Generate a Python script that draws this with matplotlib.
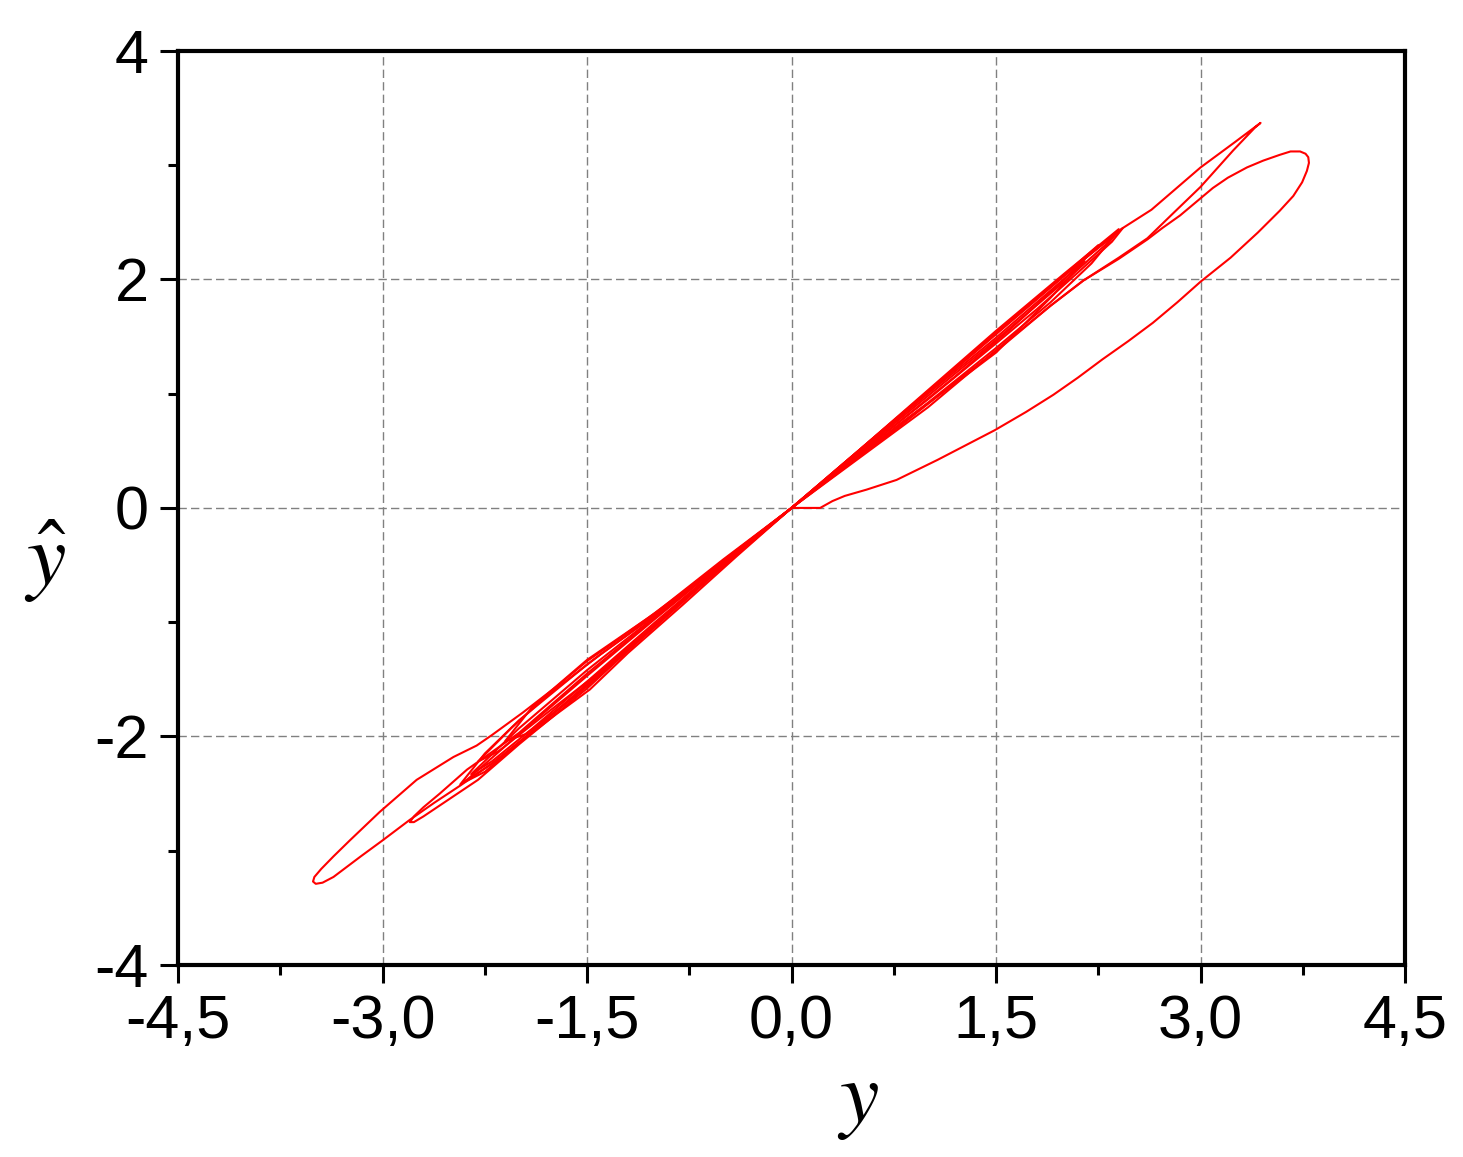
import numpy as np
import matplotlib.pyplot as plt

plt.rcParams["font.family"] = ["Liberation Sans", "DejaVu Sans"]
plt.rcParams["mathtext.fontset"] = "stix"

# ----------- Data: trajectory pieces (y, y_hat) -----------
# start transient: leaves the origin, big right loop, back into the upper bundle
start_x = [0.00, 0.21, 0.30, 0.39, 0.55, 0.77, 1.07, 1.28, 1.49, 1.72, 1.92, 2.10, 2.28, 2.47, 2.65,
           2.83, 3.00, 3.22, 3.42, 3.58, 3.68, 3.745, 3.78, 3.795, 3.79, 3.77, 3.73, 3.66, 3.58, 3.46,
           3.34, 3.20, 3.09, 2.97, 2.85, 2.72, 2.61, 2.40, 2.14, 1.90, 1.53, 1.20, 0.80, 0.40, 0.00]
start_y = [0.00, 0.00, 0.06, 0.105, 0.16, 0.245, 0.42, 0.55, 0.68, 0.84, 0.99, 1.14, 1.30, 1.46, 1.62,
           1.80, 1.98, 2.19, 2.41, 2.60, 2.73, 2.85, 2.95, 3.02, 3.07, 3.10, 3.12, 3.12, 3.09, 3.04,
           2.98, 2.89, 2.80, 2.68, 2.56, 2.45, 2.35, 2.18, 1.99, 1.77, 1.40, 1.10, 0.72, 0.36, 0.00]

# big left loop, tip near (-3.5, -3.3)
neg_outer_x = [0.00, -0.40, -0.80, -1.06, -1.19, -1.33, -1.50, -1.72, -1.97, -2.20, -2.31, -2.48, -2.75,
               -3.02, -3.24, -3.36, -3.45, -3.50, -3.51, -3.49, -3.44, -3.36, -3.16, -3.00, -2.80,
               -2.62, -2.43, -2.20, -1.97, -1.72, -1.48, -1.20, -0.80, -0.40, 0.00]
neg_outer_y = [0.00, -0.37, -0.74, -0.97, -1.08, -1.20, -1.34, -1.56, -1.79, -1.99, -2.08, -2.18, -2.38,
               -2.66, -2.91, -3.05, -3.16, -3.23, -3.27, -3.29, -3.28, -3.23, -3.05, -2.91, -2.73,
               -2.58, -2.43, -2.24, -2.03, -1.80, -1.59, -1.27, -0.85, -0.42, 0.00]

# small left loop, tip near (-2.8, -2.75)
neg_small_x = [0.00, -0.50, -1.00, -1.50, -2.00, -2.38, -2.58, -2.70, -2.77, -2.80, -2.77, -2.70, -2.55,
               -2.30, -2.00, -1.50, -1.00, -0.50, 0.00]
neg_small_y = [0.00, -0.47, -0.96, -1.45, -1.97, -2.29, -2.50, -2.62, -2.70, -2.75, -2.75, -2.70, -2.58,
               -2.38, -2.07, -1.58, -1.03, -0.50, 0.00]

# lens loops inside the lower bundle
neg_lens1_x = [0.00, -0.50, -1.00, -1.50, -2.00, -2.25, -2.43, -2.20, -1.97, -1.50, -1.00, -0.50, 0.00]
neg_lens1_y = [0.00, -0.46, -0.93, -1.37, -1.86, -2.15, -2.42, -2.24, -2.02, -1.56, -1.04, -0.51, 0.00]
neg_lens2_x = [0.00, -0.50, -1.00, -1.50, -2.00, -2.35, -2.20, -1.90, -1.50, -1.00, -0.50, 0.00]
neg_lens2_y = [0.00, -0.47, -0.95, -1.42, -1.93, -2.33, -2.22, -1.93, -1.52, -1.00, -0.49, 0.00]
neg_lens3_x = [0.00, -0.50, -1.00, -1.50, -1.90, -2.10, -1.95, -1.60, -1.20, -0.70, 0.00]
neg_lens3_y = [0.00, -0.45, -0.92, -1.33, -1.74, -2.04, -1.98, -1.66, -1.24, -0.71, 0.00]
neg_lens4_x = [0.00, -0.50, -1.00, -1.50, -2.00, -2.40, -2.25, -2.00, -1.50, -1.00, -0.50, 0.00]
neg_lens4_y = [0.00, -0.48, -0.97, -1.47, -1.98, -2.40, -2.31, -2.06, -1.54, -1.02, -0.50, 0.00]
neg_lens5_x = [0.00, -0.50, -1.00, -1.40, -1.80, -2.05, -2.30, -2.15, -1.80, -1.40, -1.00, -0.50, 0.00]
neg_lens5_y = [0.00, -0.46, -0.94, -1.28, -1.65, -1.92, -2.22, -2.13, -1.80, -1.43, -1.02, -0.50, 0.00]

# upper spike, tip near (3.44, 3.37)
pos_spike_x = [0.00, 0.50, 1.00, 1.50, 2.00, 2.43, 2.64, 3.00, 3.25, 3.44, 3.40, 3.24, 3.00, 2.80, 2.61,
               2.40, 2.14, 1.90, 1.50, 1.20, 1.00, 0.50, 0.00]
pos_spike_y = [0.00, 0.51, 1.02, 1.54, 2.04, 2.45, 2.61, 2.98, 3.20, 3.37, 3.33, 3.13, 2.81, 2.58, 2.36,
               2.19, 1.99, 1.77, 1.38, 1.08, 0.88, 0.44, 0.00]

# lens loops inside the upper bundle
pos_lens1_x = [0.00, 0.50, 1.00, 1.50, 2.00, 2.30, 2.43, 2.35, 2.10, 1.80, 1.50, 1.00, 0.50, 0.00]
pos_lens1_y = [0.00, 0.50, 1.01, 1.52, 2.03, 2.33, 2.45, 2.33, 2.06, 1.74, 1.44, 0.95, 0.48, 0.00]
pos_lens2_x = [0.00, 0.50, 1.00, 1.50, 2.00, 2.38, 2.20, 1.90, 1.50, 1.00, 0.50, 0.00]
pos_lens2_y = [0.00, 0.51, 1.02, 1.53, 2.04, 2.40, 2.14, 1.80, 1.40, 0.92, 0.46, 0.00]
pos_lens3_x = [0.00, 0.60, 1.20, 1.60, 2.00, 2.25, 2.00, 1.60, 1.20, 0.60, 0.00]
pos_lens3_y = [0.00, 0.61, 1.22, 1.63, 2.04, 2.30, 2.00, 1.56, 1.15, 0.57, 0.00]
pos_lens4_x = [0.00, 0.50, 1.00, 1.50, 2.00, 2.40, 2.30, 2.00, 1.50, 1.00, 0.50, 0.00]
pos_lens4_y = [0.00, 0.51, 1.03, 1.55, 2.05, 2.44, 2.30, 1.98, 1.47, 0.98, 0.49, 0.00]
pos_lens5_x = [0.00, 0.50, 1.00, 1.50, 1.80, 2.15, 1.90, 1.50, 1.20, 0.80, 0.00]
pos_lens5_y = [0.00, 0.50, 1.00, 1.49, 1.80, 2.16, 1.84, 1.36, 1.09, 0.74, 0.00]

segments = [
    (start_x, start_y),
    (neg_outer_x, neg_outer_y),
    (pos_spike_x, pos_spike_y),
    (neg_small_x, neg_small_y),
    (pos_lens1_x, pos_lens1_y),
    (neg_lens1_x, neg_lens1_y),
    (pos_lens2_x, pos_lens2_y),
    (neg_lens2_x, neg_lens2_y),
    (pos_lens3_x, pos_lens3_y),
    (neg_lens3_x, neg_lens3_y),
    (pos_lens4_x, pos_lens4_y),
    (neg_lens4_x, neg_lens4_y),
    (pos_lens5_x, pos_lens5_y),
    (neg_lens5_x, neg_lens5_y),
]

x_ticks = [-4.5, -3.0, -1.5, 0.0, 1.5, 3.0, 4.5]
x_tick_labels = ["-4,5", "-3,0", "-1,5", "0,0", "1,5", "3,0", "4,5"]
y_ticks = [-4, -2, 0, 2, 4]
y_tick_labels = ["-4", "-2", "0", "2", "4"]

# ----------- Figure -----------
fig = plt.figure(figsize=(14.63, 11.57), dpi=100)
ax = fig.add_axes([0.1217, 0.166, 0.8387, 0.790])

for sx, sy in segments:
    ax.plot(sx, sy, color="#ff0000", linewidth=1.5, solid_joinstyle="round")

ax.set_xlim(-4.5, 4.5)
ax.set_ylim(-4, 4)

ax.set_xticks(x_ticks)
ax.set_xticklabels(x_tick_labels)
ax.set_yticks(y_ticks)
ax.set_yticklabels(y_tick_labels)
ax.set_xticks([-3.75, -2.25, -0.75, 0.75, 2.25, 3.75], minor=True)
ax.set_yticks([-3, -1, 1, 3], minor=True)

ax.tick_params(axis="both", which="major", direction="out", length=13, width=2.2,
               labelsize=44, pad=8)
ax.tick_params(axis="both", which="minor", direction="out", length=7, width=2.2)
ax.tick_params(top=False, right=False, which="both")

for sp in ax.spines.values():
    sp.set_linewidth(3)

ax.grid(True, which="major", color="#808080", linestyle=(0, (6, 3)), linewidth=1.0)
ax.set_axisbelow(True)

ax.set_xlabel("$y$", fontsize=64)
ax.xaxis.set_label_coords(0.554, -0.148)
ax.xaxis.label.set_va("center")
ax.set_ylabel(r"$\hat{y}$", fontsize=64, rotation=0)
ax.yaxis.set_label_coords(-0.108, 0.441)
ax.yaxis.label.set_va("center")
ax.yaxis.label.set_ha("center")

fig.savefig("out.png", dpi=100)
